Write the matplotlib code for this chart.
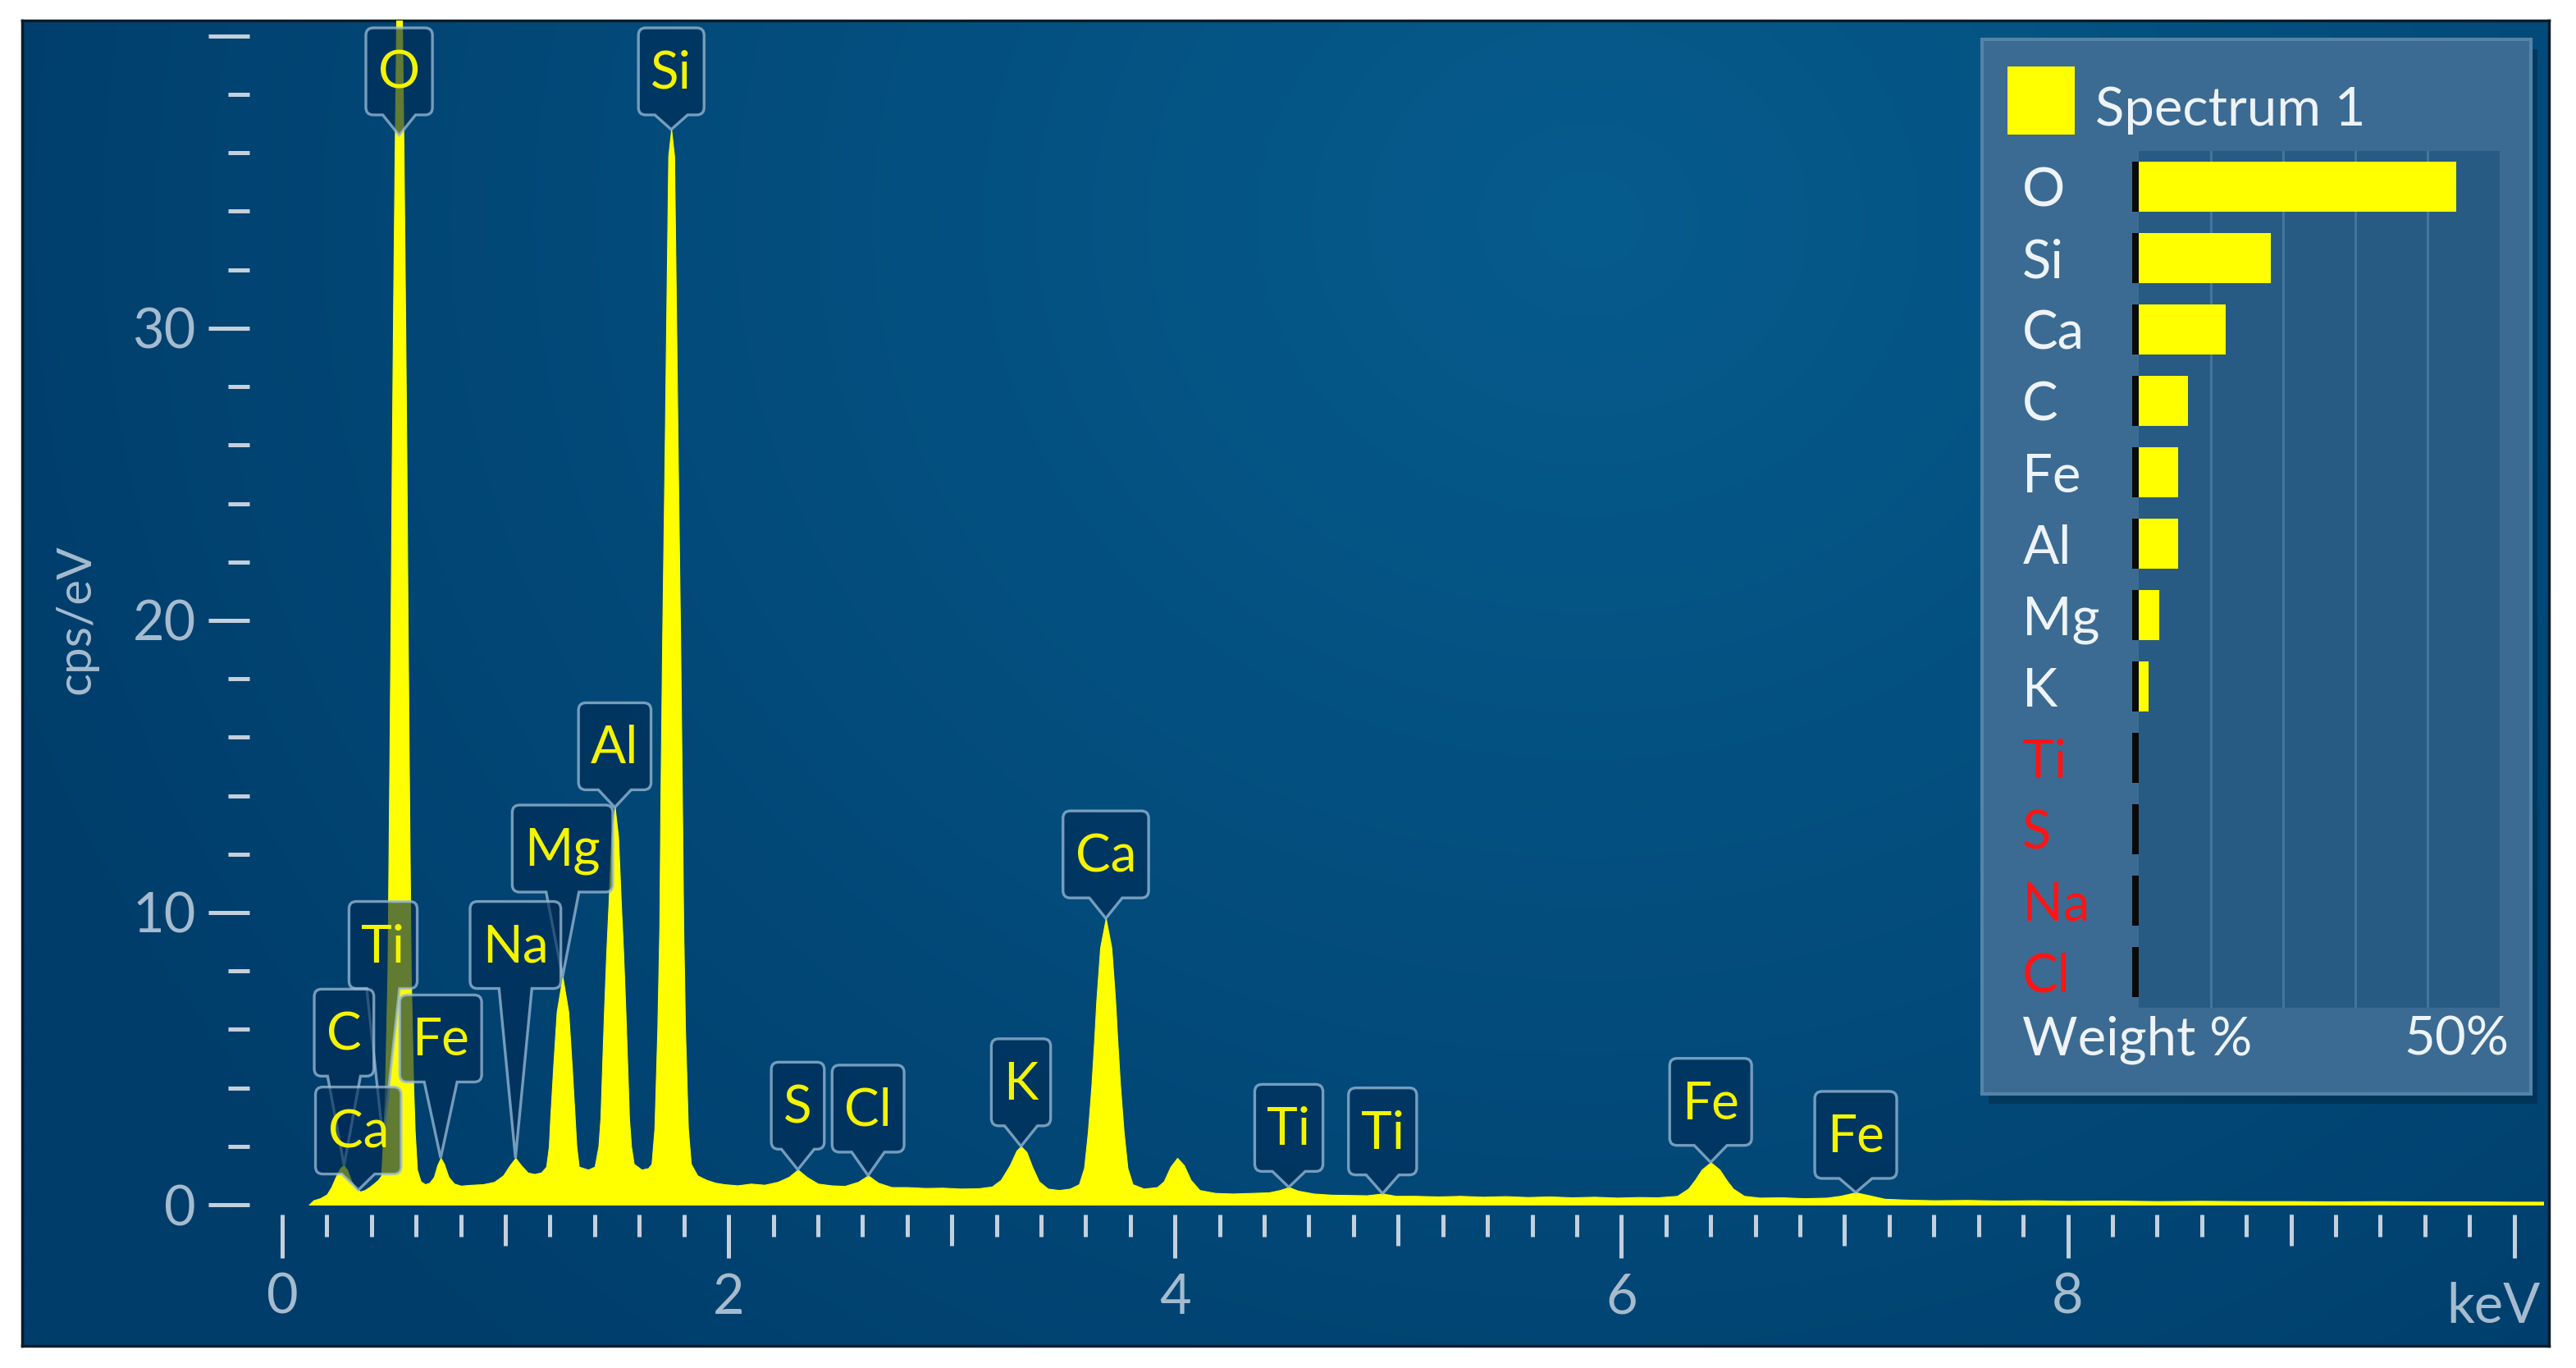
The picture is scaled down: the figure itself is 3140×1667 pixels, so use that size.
# -*- coding: utf-8 -*-

# =============================================================================
# EDS spectrum (Spectrum 1) with peak callouts and the weight % panel.
# =============================================================================

import matplotlib.pyplot as plt
import numpy as np
from matplotlib.patches import PathPatch, Rectangle
from matplotlib.path import Path
from matplotlib.ticker import MultipleLocator

plt.rcParams['font.family'] = ['Lato', 'DejaVu Sans']

# Spectrum trace (keV, cps/eV)
energy_kev = [
    0.12, 0.14, 0.17, 0.20, 0.22, 0.24, 0.26, 0.275, 0.29, 0.31,
    0.33, 0.35, 0.37, 0.39, 0.41, 0.43, 0.444, 0.454, 0.461, 0.472,
    0.480, 0.486, 0.491, 0.497, 0.504, 0.512, 0.524, 0.536, 0.544, 0.551,
    0.557, 0.562, 0.568, 0.576, 0.587, 0.594, 0.604, 0.62, 0.64, 0.66,
    0.68, 0.695, 0.71, 0.725, 0.745, 0.77, 0.80, 0.85, 0.90, 0.95,
    0.99, 1.02, 1.045, 1.07, 1.10, 1.13, 1.16, 1.183, 1.195, 1.201,
    1.215, 1.230, 1.256, 1.282, 1.297, 1.311, 1.318, 1.329, 1.37, 1.40,
    1.417, 1.426, 1.434, 1.442, 1.452, 1.462, 1.475, 1.49, 1.505, 1.518,
    1.528, 1.538, 1.546, 1.554, 1.563, 1.575, 1.61, 1.64, 1.655, 1.668,
    1.681, 1.690, 1.695, 1.703, 1.713, 1.722, 1.730, 1.743, 1.756, 1.764,
    1.773, 1.783, 1.791, 1.797, 1.805, 1.818, 1.831, 1.86, 1.90, 1.94,
    1.98, 2.04, 2.10, 2.16, 2.22, 2.27, 2.31, 2.35, 2.40, 2.46,
    2.52, 2.58, 2.625, 2.67, 2.73, 2.80, 2.88, 2.96, 3.04, 3.12,
    3.18, 3.22, 3.26, 3.29, 3.31, 3.335, 3.36, 3.39, 3.43, 3.48,
    3.53, 3.57, 3.593, 3.610, 3.626, 3.638, 3.648, 3.665, 3.69, 3.715,
    3.732, 3.742, 3.754, 3.770, 3.787, 3.81, 3.86, 3.92, 3.95, 3.98,
    4.01, 4.04, 4.07, 4.11, 4.18, 4.26, 4.34, 4.42, 4.47, 4.51,
    4.55, 4.62, 4.70, 4.78, 4.86, 4.93, 4.99, 5.08, 5.18, 5.28,
    5.38, 5.48, 5.58, 5.68, 5.78, 5.88, 5.98, 6.08, 6.16, 6.25,
    6.30, 6.33, 6.36, 6.40, 6.44, 6.47, 6.50, 6.55, 6.62, 6.72,
    6.82, 6.92, 6.98, 7.05, 7.11, 7.18, 7.28, 7.40, 7.55, 7.70,
    7.85, 8.00, 8.20, 8.40, 8.60, 8.80, 9.00, 9.20, 9.40, 9.60,
    9.80, 10.00, 10.13,
]
cps_per_ev = [
    0.0, 0.15, 0.22, 0.35, 0.6, 0.95, 1.25, 1.35, 1.2, 0.8,
    0.55, 0.45, 0.5, 0.6, 0.72, 0.85, 1.0, 2.5, 4.1, 8.0,
    14.7, 20.0, 25.3, 30.5, 35.9, 41.0, 46.0, 41.0, 35.9, 30.5,
    25.3, 20.0, 14.7, 8.0, 4.1, 2.5, 1.2, 0.8, 0.7, 0.75,
    0.95, 1.35, 1.6, 1.4, 0.95, 0.72, 0.65, 0.68, 0.7, 0.78,
    1.0, 1.35, 1.6, 1.35, 1.1, 1.05, 1.1, 1.3, 2.0, 2.95,
    4.8, 6.6, 7.8, 6.6, 4.8, 2.95, 2.0, 1.3, 1.2, 1.3,
    2.0, 2.95, 4.8, 6.6, 8.6, 10.25, 12.6, 13.6, 12.6, 10.25,
    8.6, 6.6, 4.8, 2.95, 2.0, 1.4, 1.2, 1.25, 1.4, 2.6,
    6.0, 9.5, 14.0, 19.5, 25.3, 31.0, 35.9, 36.8, 35.9, 31.0,
    25.3, 19.5, 14.0, 9.5, 6.0, 2.6, 1.4, 1.0, 0.85, 0.75,
    0.7, 0.66, 0.72, 0.68, 0.78, 0.95, 1.2, 0.95, 0.72, 0.66,
    0.64, 0.78, 1.0, 0.75, 0.6, 0.6, 0.57, 0.58, 0.55, 0.56,
    0.62, 0.85, 1.35, 1.85, 2.0, 1.8, 1.3, 0.8, 0.55, 0.5,
    0.55, 0.7, 1.26, 2.5, 4.1, 5.6, 7.0, 8.8, 9.8, 8.8,
    7.0, 5.6, 4.1, 2.5, 1.26, 0.7, 0.55, 0.6, 0.8, 1.3,
    1.6, 1.35, 0.85, 0.5, 0.4, 0.38, 0.4, 0.42, 0.5, 0.6,
    0.48, 0.38, 0.34, 0.33, 0.32, 0.38, 0.3, 0.3, 0.28, 0.3,
    0.27, 0.29, 0.26, 0.28, 0.25, 0.27, 0.24, 0.26, 0.25, 0.3,
    0.55, 0.85, 1.2, 1.45, 1.2, 0.85, 0.55, 0.3, 0.24, 0.25,
    0.22, 0.24, 0.3, 0.42, 0.32, 0.2, 0.17, 0.15, 0.16, 0.14,
    0.15, 0.13, 0.14, 0.12, 0.13, 0.12, 0.12, 0.11, 0.12, 0.11,
    0.11, 0.10, 0.10,
]

# Peak callouts: element, line energy (keV), pointer tip height (cps/eV)
marker_elements = ['O', 'Si', 'Al', 'Mg', 'Na', 'Ti', 'C', 'Fe', 'Ca',
                   'S', 'Cl', 'K', 'Ca', 'Ti', 'Ti', 'Fe', 'Fe']
marker_energy = [0.524, 1.743, 1.49, 1.256, 1.045, 0.452, 0.277, 0.71, 0.341,
                 2.31, 2.625, 3.31, 3.69, 4.51, 4.93, 6.40, 7.05]
marker_tip = [36.6, 36.8, 13.6, 7.8, 1.6, 2.2, 1.35, 1.6, 0.5,
              1.2, 1.0, 2.0, 9.8, 0.6, 0.38, 1.45, 0.42]
# bottom edge of each label box (cps/eV), stacked as in the original
marker_box_bottom = [37.3, 37.3, 14.2, 10.7, 7.4, 7.4, 4.4, 4.2, 1.05,
                     1.9, 1.8, 2.7, 10.5, 1.14, 1.02, 2.03, 0.9]

# Quantification panel
quant_elements = ['O', 'Si', 'Ca', 'C', 'Fe', 'Al', 'Mg', 'K', 'Ti', 'S', 'Na', 'Cl']
quant_weight = [44.0, 18.3, 12.0, 6.8, 5.5, 5.5, 2.8, 1.4, 0.0, 0.0, 0.0, 0.0]
quant_flagged = [False, False, False, False, False, False, False, False,
                 True, True, True, True]

x_major = [0, 2, 4, 6, 8, 10]
x_tick_labels = ['0', '2', '4', '6', '8', '']
x_odd = [1, 3, 5, 7, 9]
y_major = [0, 10, 20, 30, 40]
y_tick_labels = ['0', '10', '20', '30', '']

W, H = 3140, 1667
YELLOW = '#ffff00'
TEXT = '#a6bbce'
TICK = '#c4d0dc'
WHITE = '#eef3f7'
RED = '#ff1414'


def fig_rect(x0, y0, x1, y1):
    """Pixel box (top-left origin) -> figure fraction rect."""
    return [x0 / W, 1 - y1 / H, (x1 - x0) / W, (y1 - y0) / H]


def callout_path(x0, x1, yt, yb, cx, tx, ty, r=9, half=20):
    """Rounded label box with a V pointer going down to (tx, ty)."""
    verts = [(x0 + r, yt), (x1 - r, yt), (x1, yt), (x1, yt + r),
             (x1, yb - r), (x1, yb), (x1 - r, yb),
             (cx + half, yb), (tx, ty), (cx - half, yb),
             (x0 + r, yb), (x0, yb), (x0, yb - r),
             (x0, yt + r), (x0, yt), (x0 + r, yt), (x0 + r, yt)]
    codes = [Path.MOVETO, Path.LINETO, Path.CURVE3, Path.CURVE3,
             Path.LINETO, Path.CURVE3, Path.CURVE3,
             Path.LINETO, Path.LINETO, Path.LINETO,
             Path.LINETO, Path.CURVE3, Path.CURVE3,
             Path.LINETO, Path.CURVE3, Path.CURVE3, Path.CLOSEPOLY]
    return Path(verts, codes)


fig = plt.figure(figsize=(W / 100, H / 100), dpi=100, facecolor='white')

# --- dark blue frame with a soft radial highlight -----------------------------
bg = fig.add_axes(fig_rect(27, 25, 3107, 1640), zorder=0)
yy, xx = np.mgrid[0:1:300j, 0:1:560j]
dist = np.clip(np.hypot((xx - 0.62) * 1.7, yy - 0.15) / 1.15, 0, 1)
c_in = np.array([0x06, 0x5c, 0x8d]) / 255
c_out = np.array([0x00, 0x3d, 0x6b]) / 255
bg.imshow(c_in * (1 - dist[..., None]) + c_out * dist[..., None],
          aspect='auto', interpolation='bilinear')
bg.set_xticks([])
bg.set_yticks([])
for s in bg.spines.values():
    s.set_color('#0d1b29')
    s.set_linewidth(2.5)

# --- spectrum ----------------------------------------------------------------
ax = fig.add_axes(fig_rect(344, 25, 3100, 1468), zorder=1)
ax.set_facecolor('none')
ax.fill_between(energy_kev, cps_per_ev, 0, color=YELLOW, lw=0.8)
ax.set_xlim(0, 10.13)
ax.set_ylim(0, 40.53)

for s in ax.spines.values():
    s.set_visible(False)
ax.spines['left'].set_position(('outward', 28.8))
ax.spines['bottom'].set_position(('outward', 8.6))

ax.set_yticks(y_major, y_tick_labels)
ax.yaxis.set_minor_locator(MultipleLocator(2))
ax.tick_params(axis='y', which='major', length=36, width=3.6, color=TICK,
               labelcolor=TEXT, labelsize=48, pad=11)
ax.tick_params(axis='y', which='minor', length=18.7, width=3.6, color=TICK)

ax.set_xticks(x_major, x_tick_labels)
ax.xaxis.set_minor_locator(MultipleLocator(0.2))
ax.tick_params(axis='x', which='major', length=38, width=3.6, color=TICK,
               labelcolor=TEXT, labelsize=48, pad=13)
ax.tick_params(axis='x', which='minor', length=19.4, width=3.6, color=TICK)

# medium ticks at the odd keV values
ax2 = ax.twiny()
ax2.set_xlim(ax.get_xlim())
ax2.xaxis.set_ticks_position('bottom')
for s in ax2.spines.values():
    s.set_visible(False)
ax2.spines['bottom'].set_position(('outward', 8.6))
ax2.set_xticks(x_odd, [''] * len(x_odd))
ax2.tick_params(axis='x', length=27.4, width=3.6, color=TICK)

fig.text(93 / W, 1 - 755 / H, 'cps/eV', rotation=90, ha='center',
         va='center', fontsize=42, color=TEXT)

# --- overlay in pixel units: callouts and the legend panel ---------------------
ov = fig.add_axes([0, 0, 1, 1], zorder=2)
ov.set_xlim(0, W)
ov.set_ylim(H, 0)
ov.set_axis_off()


def to_px(x, y):
    px, py = ax.transData.transform((x, y))
    return px, H - py


kx, _ = to_px(10, 0)
ov.text(kx - 25, 1612, 'keV', ha='center', va='baseline', fontsize=48,
        color=TEXT)

renderer = fig.canvas.get_renderer()
for name, e, tip, bottom in zip(marker_elements, marker_energy,
                                marker_tip, marker_box_bottom):
    cx, yb = to_px(e, bottom)
    tx, ty = to_px(e, tip)
    yt = yb - 106
    txt = ov.text(cx, (yt + yb) / 2 + 3, name, ha='center', va='center',
                  fontsize=46, color='#f4f400', zorder=5)
    w = txt.get_window_extent(renderer).width + 30
    path = callout_path(cx - w / 2, cx + w / 2, yt, yb, cx, tx, ty)
    ov.add_patch(PathPatch(path, facecolor=(0.0, 0.17, 0.33, 0.62),
                           edgecolor=(0.62, 0.74, 0.85, 0.75), lw=2.4,
                           zorder=4))

# panel with shadow
ov.add_patch(Rectangle((2424, 60), 669, 1285, facecolor='black', alpha=0.22,
                       lw=0, zorder=6))
ov.add_patch(Rectangle((2416, 48), 669, 1285, facecolor='#3b6b92',
                       edgecolor='#5583a8', lw=3, zorder=7))
ov.add_patch(Rectangle((2447, 81), 82, 83, facecolor=YELLOW, lw=0, zorder=8))
ov.text(2554, 153, 'Spectrum 1', fontsize=47, color=WHITE, va='baseline',
        zorder=8)
ov.text(2465, 1285, 'Weight %', fontsize=47, color=WHITE, va='baseline',
        zorder=8)
ov.text(3058, 1285, '50%', fontsize=47, color=WHITE, ha='right',
        va='baseline', zorder=8)

# --- weight % bars --------------------------------------------------------------
bx = fig.add_axes(fig_rect(2607, 184, 3047, 1228), zorder=3)
rows = np.arange(len(quant_elements))
bx.set_facecolor('#285b83')
bx.barh(rows, quant_weight, height=0.71, color=YELLOW, zorder=3)
bx.barh(rows, 0.9, left=-0.9, height=0.71, color='#0a0a0a', clip_on=False,
        zorder=3)
bx.set_xlim(0, 50)
bx.set_ylim(11.5, -0.5)
bx.set_xticks([10, 20, 30, 40])
bx.grid(axis='x', color='#44759b', lw=2.2)
bx.set_axisbelow(True)
bx.tick_params(axis='x', length=0, labelbottom=False)
bx.set_yticks(rows, quant_elements)
bx.tick_params(axis='y', length=0, pad=102, labelsize=47)
for lab, flag in zip(bx.get_yticklabels(), quant_flagged):
    lab.set_horizontalalignment('left')
    lab.set_color(RED if flag else WHITE)
for s in bx.spines.values():
    s.set_visible(False)

fig.savefig('out.png', dpi=100, facecolor='white')
